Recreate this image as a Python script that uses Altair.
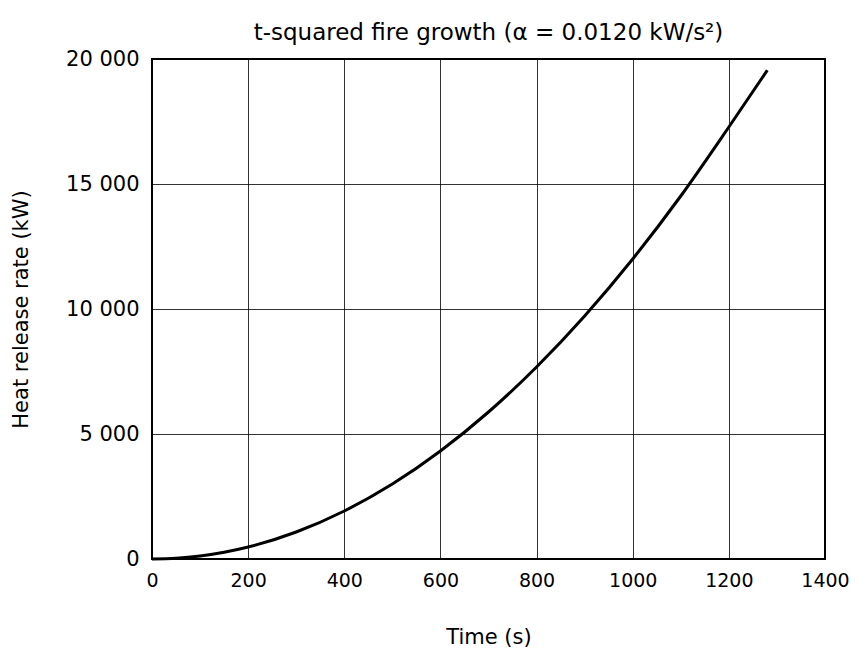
import altair as alt
import pandas as pd

time_s = [0, 50, 100, 150, 200, 300, 400, 500, 600, 700, 800, 900, 1000, 1100, 1200, 1280]
hrr_kw = [0, 30, 120, 270, 480, 1080, 1920, 3000, 4320, 5880, 7680, 9720, 12000, 14520, 17280, 19550]

x_ticks = [0, 200, 400, 600, 800, 1000, 1200, 1400]
y_ticks = [0, 5000, 10000, 15000, 20000]

df = pd.DataFrame({"t": time_s, "q": hrr_kw})

FONT = "DejaVu Sans"

chart = alt.Chart(df).mark_line(color="black", strokeWidth=3, interpolate="monotone").encode(
    x=alt.X("t:Q", scale=alt.Scale(domain=[0, 1400], nice=False),
            axis=alt.Axis(title="Time (s)", values=x_ticks, format="d", titlePadding=36,
                          labelPadding=12, labelFlush=False, labelFontSize=19)),
    y=alt.Y("q:Q", scale=alt.Scale(domain=[0, 20000], nice=False),
            axis=alt.Axis(title="Heat release rate (kW)", values=y_ticks,
                          labelExpr="replace(format(datum.value, ','), ',', ' ')",
                          titlePadding=34, labelPadding=13, labelFlush=False, labelFontSize=21)),
).properties(
    width=673, height=500,
    title=alt.TitleParams("t-squared fire growth (α = 0.0120 kW/s²)", fontSize=23, font=FONT,
                          fontWeight="normal", color="black", offset=3),
    autosize=alt.AutoSizeParams(type="none"),
    padding={"left": 144, "top": 51, "right": 24, "bottom": 93},
).configure_view(
    stroke="black", strokeWidth=2
).configure_axis(
    grid=True, gridColor="black", gridWidth=1, gridOpacity=0.8,
    domain=False, ticks=False,
    labelFont=FONT, labelColor="black",
    titleFont=FONT, titleFontSize=21, titleColor="black", titleFontWeight="normal",
)

chart.save("out.html", embed_options={"renderer": "svg", "actions": False})
